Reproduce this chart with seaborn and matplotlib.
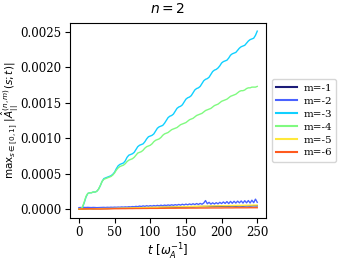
import numpy as np
import pandas as pd
import matplotlib
matplotlib.use("Agg")
import matplotlib.pyplot as plt
import seaborn as sns

# time grids
t_fine = np.arange(0, 250.01, 2.5)   # 101 samples
t_coarse = np.arange(0, 250.01, 5.0)  # 51 samples

# values (in units of 1e-5 for large, 1e-6 for small series)
m3_e5 = [0, 0, 2, 9, 17, 22, 23, 23, 24, 24, 25,
         28, 33, 39, 43, 44, 45, 46, 47, 49, 52,
         57, 61, 63, 64, 65, 68, 73, 76, 77, 78,
         80, 84, 88, 90, 91, 92, 95, 99, 102, 103,
         104, 106, 110, 114, 116, 117, 118, 121, 125, 129,
         131, 132, 134, 138, 142, 144, 145, 147, 151, 155,
         157, 158, 160, 164, 168, 170, 171, 173, 177, 181,
         183, 184, 186, 190, 194, 196, 197, 199, 202, 206,
         208, 209, 210, 213, 217, 219, 220, 221, 224, 227,
         229, 230, 231, 234, 237, 239, 240, 241, 245, 251]
m4_e5 = [0, 0, 3, 10, 18, 22, 23, 23, 24, 24, 25,
         28, 33, 39, 42, 43, 44, 45, 46, 48, 51,
         55, 58, 60, 61, 62, 64, 67, 69, 70, 71,
         73, 76, 79, 80, 81, 83, 86, 88, 89, 90,
         92, 95, 97, 98, 99, 101, 104, 106, 107, 108,
         110, 112, 113, 114, 115, 117, 119, 120, 121, 122,
         124, 126, 127, 128, 130, 132, 133, 134, 135, 137,
         139, 140, 141, 142, 144, 146, 147, 148, 150, 152,
         153, 154, 155, 157, 159, 160, 161, 162, 164, 166,
         167, 167, 168, 170, 171, 171, 172, 172, 172, 173]
m2_e6 = [20, 22, 21, 23, 22, 24, 22, 21, 23, 22, 20,
         21, 22, 23, 24, 22, 25, 23, 26, 24, 27,
         25, 28, 26, 30, 27, 31, 28, 33, 30, 35,
         32, 38, 34, 42, 36, 45, 38, 47, 40, 48,
         42, 50, 44, 52, 45, 55, 47, 56, 50, 58,
         52, 60, 53, 62, 55, 65, 56, 68, 58, 70,
         60, 72, 62, 75, 63, 78, 65, 80, 68, 85,
         120, 75, 95, 70, 88, 72, 90, 74, 95, 78,
         100, 80, 105, 78, 108, 82, 110, 85, 112, 88,
         115, 85, 118, 88, 120, 86, 125, 90, 140, 95]
m1_e6 = [0, 2, 3, 5, 4, 6, 7, 8, 8, 10,
         11, 12, 13, 14, 15, 16, 17, 18, 19, 20,
         21, 22, 22, 24, 25, 26, 27, 27, 28, 30,
         31, 32, 32, 34, 35, 36, 36, 38, 38, 40,
         40, 42, 42, 44, 43, 45, 44, 46, 45, 47,
         46]
m5_e6 = [0, 1, 2, 3, 4, 5, 6, 7, 8, 9,
         10, 12, 13, 14, 15, 17, 18, 19, 20, 22,
         23, 24, 25, 27, 28, 29, 30, 32, 33, 34,
         35, 36, 38, 39, 40, 41, 42, 44, 45, 46,
         47, 48, 49, 50, 51, 52, 53, 54, 55, 56,
         57]
m6_e6 = [0, 2, 3, 4, 3, 2, 1, 2, 3, 4,
         5, 5, 6, 6, 7, 7, 8, 8, 9, 9,
         10, 10, 10, 11, 11, 12, 12, 12, 13, 13,
         13, 14, 14, 14, 15, 15, 15, 16, 16, 16,
         16, 17, 17, 17, 18, 18, 18, 18, 19, 19,
         19]

labels = ["m=-1", "m=-2", "m=-3", "m=-4", "m=-5", "m=-6"]
colors = ["#1c1c78", "#4a62ff", "#10d0ff", "#80fa80", "#ffe83a", "#ff5a1e"]

series = [
    (t_coarse, np.array(m1_e6) * 1e-6),
    (t_fine, np.array(m2_e6) * 1e-6),
    (t_fine, np.array(m3_e5) * 1e-5),
    (t_fine, np.array(m4_e5) * 1e-5),
    (t_coarse, np.array(m5_e6) * 1e-6),
    (t_coarse, np.array(m6_e6) * 1e-6),
]
frames = []
for lab, (tt, vv) in zip(labels, series):
    frames.append(pd.DataFrame({"t": tt, "v": vv, "m": lab}))
df = pd.concat(frames, ignore_index=True)

plt.rcParams["font.family"] = "DejaVu Serif"
plt.rcParams["mathtext.fontset"] = "dejavusans"

fig = plt.figure(figsize=(3.43, 2.61), dpi=100)
ax = fig.add_axes([0.204, 0.165, 0.572, 0.747])
sns.lineplot(data=df, x="t", y="v", hue="m", hue_order=labels,
             palette=dict(zip(labels, colors)), linewidth=1.0, ax=ax,
             legend=True)

ax.set_xlim(-12.5, 262.5)
ax.set_ylim(-0.000125, 0.002625)
ax.set_xticks([0, 50, 100, 150, 200, 250])
ax.set_yticks([0.0, 0.0005, 0.0010, 0.0015, 0.0020, 0.0025])
ax.set_yticklabels(["0.0000", "0.0005", "0.0010", "0.0015", "0.0020", "0.0025"])
ax.tick_params(labelsize=8.5, length=3.5, width=0.8, pad=2.5)
ax.set_xlabel(r"$t\ [\omega_A^{-1}]$", fontsize=8.5, labelpad=2)
ax.set_ylabel(r"$\mathrm{max}_{s\in[0,1]}\ |\hat{A}_{||}^{(n,m)}(s;t)|$",
              fontsize=7.5)
ax.yaxis.set_label_coords(-0.25, 0.5)
ax.set_title(r"$n=2$", fontsize=10, pad=7)

leg = ax.legend(loc="center left", bbox_to_anchor=(1.015, 0.5), fontsize=7.5,
                frameon=True, handlelength=2.0, borderpad=0.4, labelspacing=0.35,
                handletextpad=0.6, borderaxespad=0.3)
for line in leg.get_lines():
    line.set_linewidth(1.5)

fig.savefig("out.png", dpi=100)
